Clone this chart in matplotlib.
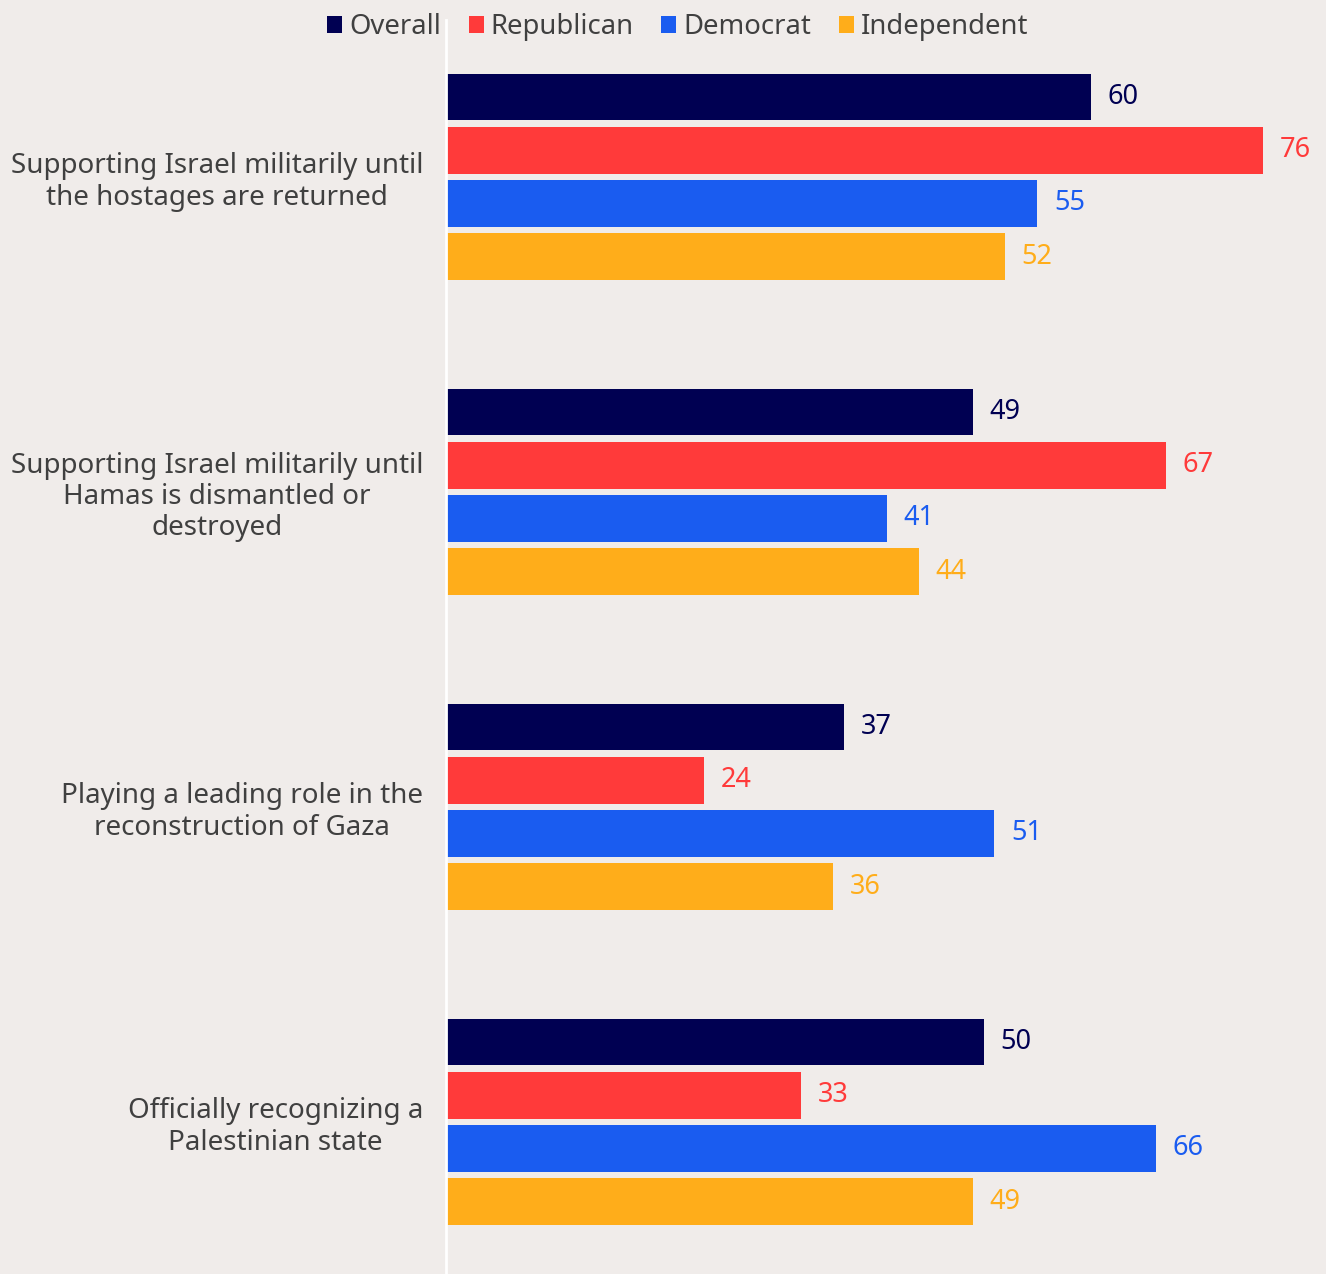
import matplotlib
matplotlib.use('Agg')
import matplotlib.pyplot as plt
import numpy as np

plt.rcParams['font.family'] = ['Noto Sans', 'DejaVu Sans']

categories = [
    'Supporting Israel militarily until\nthe hostages are returned',
    'Supporting Israel militarily until\nHamas is dismantled or\ndestroyed',
    'Playing a leading role in the\nreconstruction of Gaza',
    'Officially recognizing a\nPalestinian state',
]
series = ['Overall', 'Republican', 'Democrat', 'Independent']
overall = [60, 49, 37, 50]
republican = [76, 67, 24, 33]
democrat = [55, 41, 51, 66]
independent = [52, 44, 36, 49]
colors = ['#000052', '#ff3a3a', '#1a5cf0', '#ffad1a']

bg = '#f0ecea'
text_color = '#404040'

fig = plt.figure(figsize=(13.26, 12.74), dpi=100, facecolor=bg)
ax = fig.add_axes([446 / 1326, 0, 880 / 1326, 1254 / 1274], facecolor=bg)

y = np.arange(len(categories))
step = 0.169
height = 0.149
values = [overall, republican, democrat, independent]
for i, (name, vals, c) in enumerate(zip(series, values, colors)):
    pos = y + (i - 1.5) * step
    ax.barh(pos, vals, height=height, color=c, label=name)
    for p, v in zip(pos, vals):
        ax.text(v + 1.55, p, str(v), va='center', ha='left', color=c, fontsize=19.5)

ax.set_xlim(0, 880 / 10.75)
ax.set_ylim(3.483, -0.498)
ax.set_xticks([])
ax.set_yticks(y)
ax.set_yticklabels(categories, fontsize=20, color=text_color, ha='right',
                   multialignment='center', linespacing=1.15)
ax.tick_params(axis='y', length=0, pad=16.5)
for s in ['top', 'right', 'bottom']:
    ax.spines[s].set_visible(False)
ax.spines['left'].set_color('white')
ax.spines['left'].set_linewidth(2)

fig.legend(loc='upper center', bbox_to_anchor=(0.511, 1.009), ncol=4, frameon=False,
           fontsize=19.8, labelcolor=text_color, handlelength=0.55, handleheight=0.55,
           handletextpad=0.25, columnspacing=1.0)

fig.savefig('out.png', dpi=100, facecolor=bg)
